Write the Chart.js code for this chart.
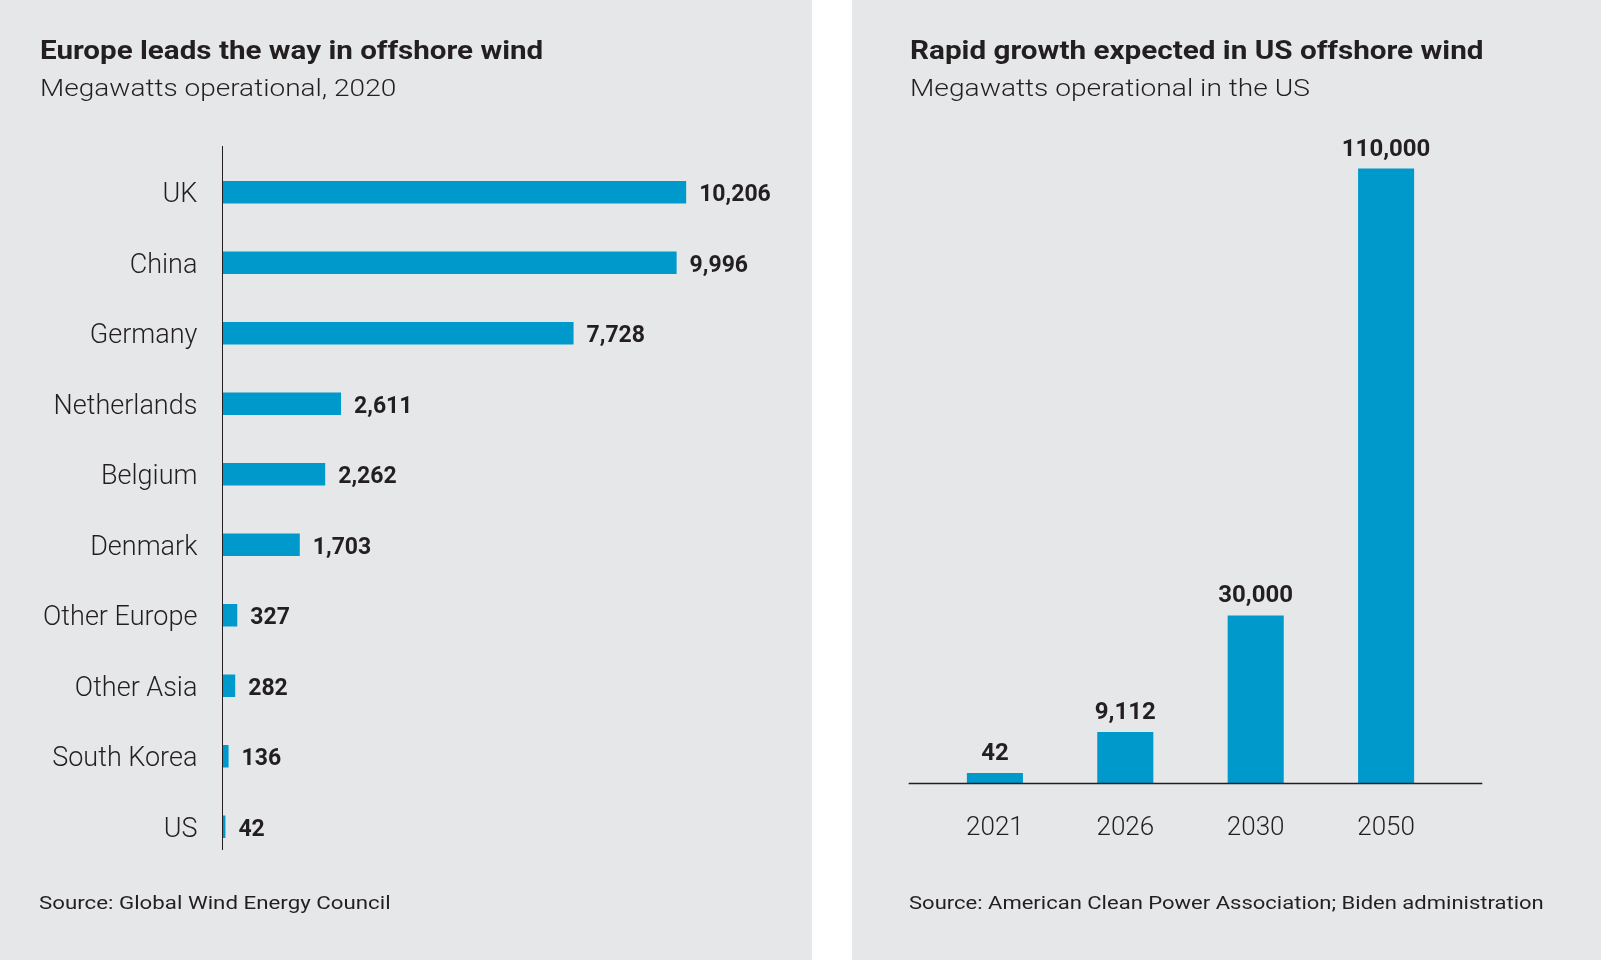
<!DOCTYPE html>
<html>
<head>
<meta charset="utf-8">
<script src="https://cdn.jsdelivr.net/npm/chart.js@4.4.1/dist/chart.umd.min.js"></script>
<style>
  html, body { margin: 0; padding: 0; background: #ffffff; }
  body { width: 1601px; height: 960px; position: relative; overflow: hidden; font-family: Roboto, "Liberation Sans", sans-serif; color: #231f20; }
  .panel { position: absolute; top: 0; height: 960px; background: #e6e7e8; }
  #leftPanel { left: 0; width: 812px; }
  #rightPanel { left: 852px; width: 749px; }
  .txt { position: absolute; white-space: nowrap; line-height: 1; transform-origin: 0 0; }
  .title { font-weight: 700; font-size: 26px; }
  .sub { font-weight: 300; font-size: 24px; }
  .src { font-weight: 400; font-size: 19px; }
  canvas { position: absolute; left: 0; top: 0; }
</style>
</head>
<body>
<div class="panel" id="leftPanel">
  <canvas id="leftChart" width="812" height="960"></canvas>
  <div class="txt title" style="left:40px; top:37px;" data-w="503">Europe leads the way in offshore wind</div>
  <div class="txt sub" style="left:40px; top:76px;" data-w="356">Megawatts operational, 2020</div>
  <div class="txt src" style="left:39px; top:893px;" data-w="352">Source: Global Wind Energy Council</div>
</div>
<div class="panel" id="rightPanel">
  <canvas id="rightChart" width="749" height="960"></canvas>
  <div class="txt title" style="left:58px; top:37px;" data-w="574">Rapid growth expected in US offshore wind</div>
  <div class="txt sub" style="left:58px; top:76px;" data-w="400">Megawatts operational in the US</div>
  <div class="txt src" style="left:57px; top:893px;" data-w="635">Source: American Clean Power Association; Biden administration</div>
</div>
<script>
// ---- Data ----
const countries = ["UK", "China", "Germany", "Netherlands", "Belgium", "Denmark", "Other Europe", "Other Asia", "South Korea", "US"];
const countryMW = [10206, 9996, 7728, 2611, 2262, 1703, 327, 282, 136, 42];
const years = ["2021", "2026", "2030", "2050"];
const usMW = [42, 9112, 30000, 110000];

// ---- Styling ----
const BLUE = "#0099cc";
const INK = "#231f20";
const FONT = "Roboto, 'Liberation Sans', sans-serif";

// fit HTML text widths to the reference
document.querySelectorAll('.txt[data-w]').forEach(el => {
  const w = +el.dataset.w;
  const actual = el.scrollWidth;
  if (actual > 0) el.style.transform = 'scaleX(' + (w / actual) + ')';
});

const fmt = v => v.toLocaleString('en-US');

const hValueLabels = {
  id: 'hValueLabels',
  afterDatasetsDraw(chart) {
    const ctx = chart.ctx;
    const meta = chart.getDatasetMeta(0);
    ctx.save();
    ctx.font = "700 23px " + FONT;
    ctx.fillStyle = INK;
    ctx.textAlign = 'left';
    ctx.textBaseline = 'alphabetic';
    meta.data.forEach((el, i) => {
      ctx.fillText(fmt(chart.data.datasets[0].data[i]), el.x + 13, el.y + 9);
    });
    ctx.restore();
  }
};

const leftAxisLine = {
  id: 'leftAxisLine',
  afterDatasetsDraw(chart) {
    const ctx = chart.ctx, a = chart.chartArea;
    const x = Math.round(chart.scales.x.getPixelForValue(0)) + 0.5;
    ctx.save();
    ctx.strokeStyle = INK;
    ctx.lineWidth = 1;
    ctx.beginPath();
    ctx.moveTo(x, a.top - 11);
    ctx.lineTo(x, a.bottom - 12);
    ctx.stroke();
    ctx.restore();
  }
};

new Chart(document.getElementById('leftChart'), {
  type: 'bar',
  data: {
    labels: countries,
    datasets: [{
      data: countryMW,
      backgroundColor: BLUE,
      borderWidth: 0,
      barPercentage: 0.316,
      categoryPercentage: 1,
      minBarLength: 3
    }]
  },
  options: {
    indexAxis: 'y',
    responsive: false,
    animation: false,
    devicePixelRatio: 1,
    layout: { padding: { top: 157, bottom: 98, left: 0, right: 21.6 } },
    plugins: { legend: { display: false }, tooltip: { enabled: false } },
    scales: {
      x: { type: 'linear', min: 0, max: 12500, display: false },
      y: {
        grid: { display: false, drawTicks: false },
        border: { display: false },
        ticks: { color: INK, font: { family: FONT, size: 27, weight: 300 }, padding: 25, labelOffset: 3 },
        afterFit(s) { s.width = 222.4; }
      }
    }
  },
  plugins: [hValueLabels, leftAxisLine]
});

const vValueLabels = {
  id: 'vValueLabels',
  afterDatasetsDraw(chart) {
    const ctx = chart.ctx;
    const meta = chart.getDatasetMeta(0);
    ctx.save();
    ctx.font = "700 24px " + FONT;
    ctx.fillStyle = INK;
    ctx.textAlign = 'center';
    ctx.textBaseline = 'alphabetic';
    meta.data.forEach((el, i) => {
      ctx.fillText(fmt(chart.data.datasets[0].data[i]), el.x, el.y - 13);
    });
    ctx.restore();
  }
};

const baseLine = {
  id: 'baseLine',
  afterDatasetsDraw(chart) {
    const ctx = chart.ctx, a = chart.chartArea;
    const y = Math.round(chart.scales.y.getPixelForValue(0)) + 0.5;
    ctx.save();
    ctx.strokeStyle = INK;
    ctx.lineWidth = 1.5;
    ctx.beginPath();
    ctx.moveTo(a.left - 21, y);
    ctx.lineTo(a.right + 31, y);
    ctx.stroke();
    ctx.restore();
  }
};

new Chart(document.getElementById('rightChart'), {
  type: 'bar',
  data: {
    labels: years,
    datasets: [{
      data: usMW,
      backgroundColor: BLUE,
      borderWidth: 0,
      barPercentage: 0.43,
      categoryPercentage: 1,
      minBarLength: 10
    }]
  },
  options: {
    responsive: false,
    animation: false,
    devicePixelRatio: 1,
    layout: { padding: { top: 112.7, bottom: 77, left: 77.7, right: 149.7 } },
    plugins: { legend: { display: false }, tooltip: { enabled: false } },
    scales: {
      y: { type: 'linear', min: 0, max: 120000, display: false },
      x: {
        grid: { display: false, drawTicks: false },
        border: { display: false },
        ticks: { color: INK, font: { family: FONT, size: 26, weight: 300 }, padding: 30 },
        afterFit(s) { s.height = 100; }
      }
    }
  },
  plugins: [vValueLabels, baseLine]
});
</script>
</body>
</html>
